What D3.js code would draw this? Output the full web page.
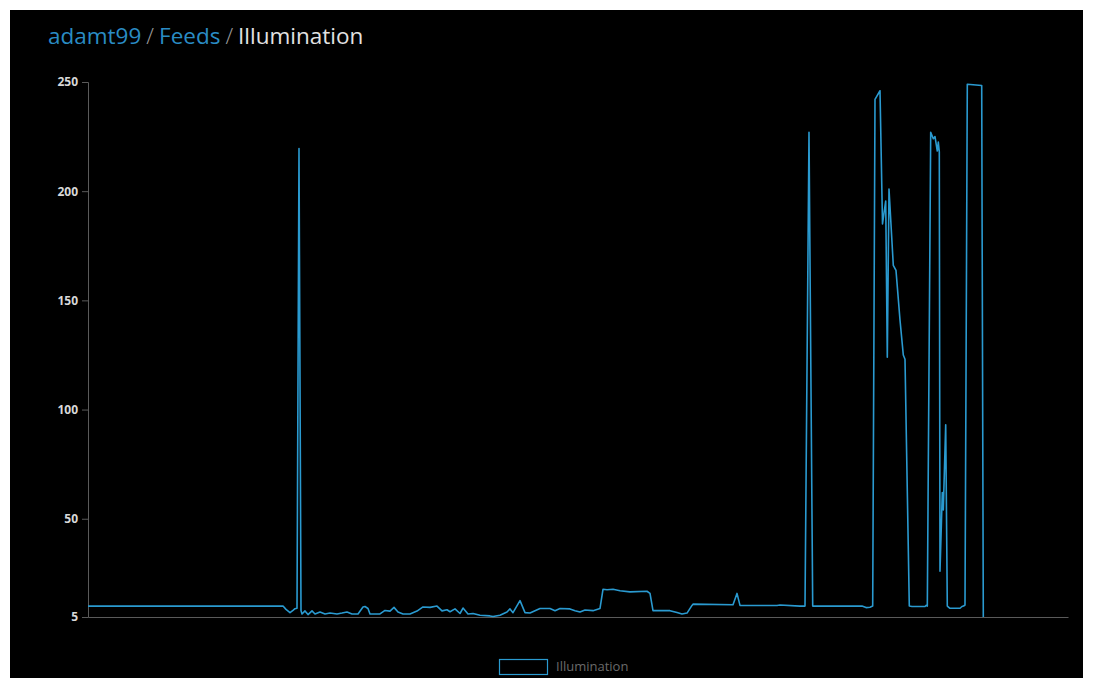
<script src="https://cdn.jsdelivr.net/npm/d3@7"></script>
<style>
  body { margin: 0; background: #fff; }
</style>
<div id="chart"></div>
<script>
  // readings (x position along the feed, illumination value)
  var sampleX = [0,190,195,198,202,205,207,209,211,213,214,217,220,224,227,232,237,242,249,254,
    259,264,270,275,277,280,282,292,297,302,306,310,315,322,329,335,342,349,354,359,
    362,367,372,375,380,385,392,402,405,412,419,422,425,432,437,442,447,452,462,467,
    472,482,487,492,497,505,512,515,519,525,532,542,559,562,565,582,589,594,599,604,
    605,645,649,652,689,692,712,717,721,724.7,774,778,782,784.7,787,792,794.5,797.7,799.3,801,
    805.3,808,812,815.3,817,821.3,824,837,838,839.3,842.7,845.3,847,849.3,850.3,851.3,852,854.3,855.3,857.7,
    859.3,862,872,874,875.5,877,879.3,893.7,895.3];
  var illumination = [10,10,10,8.5,7,8,8.8,9,219.5,8,6.4,7.8,6.1,7.8,6.4,7.3,6.4,6.8,6.4,6.8,
    7.3,6.4,6.4,9.6,9.8,8.9,6.4,6.4,8,7.7,9.4,7.3,6.4,6.4,7.7,9.6,9.4,10,7.8,8.3,
    7.4,8.7,6.6,9.1,6.4,6.6,5.8,5.5,5.2,5.8,7.3,8.7,7,12.5,7,6.8,7.9,8.9,8.9,7.9,
    8.9,8.7,7.9,7.3,8.2,7.9,8.9,17.7,17.5,17.7,17,16.5,16.8,15.8,7.9,7.9,7.1,6.4,6.8,10.3,
    10.9,10.6,15.8,10.3,10.3,10.5,10,10,227,10,10,9.3,9.5,10,242,246,185,195.5,124,201,
    166,163.7,141,125,123,10,9.8,9.8,10.3,10,227,224,225,218.4,222.5,218,26,62,54,93,
    10,9,9,9.8,10,10.5,249,248.4,5];
  var yTicks = [5, 50, 100, 150, 200, 250];

  var width = 1093;
  var height = 682;
  var lineColor = "#2a9ad0";

  var svg = d3.select("#chart")
    .append("svg")
    .attr("width", width)
    .attr("height", height);

  // black panel
  svg.append("rect")
    .attr("x", 10)
    .attr("y", 10)
    .attr("width", 1073)
    .attr("height", 668)
    .attr("fill", "#000");

  // breadcrumb title
  var title = svg.append("text")
    .attr("x", 48)
    .attr("y", 44)
    .style("font-family", "'Open Sans', sans-serif")
    .style("font-size", "22.5px");
  title.append("tspan").attr("fill", "#2a8cc4").text("adamt99");
  title.append("tspan").attr("fill", "#9a9a9a").attr("dx", 5).style("font-weight", 300).text("/");
  title.append("tspan").attr("fill", "#2a8cc4").attr("dx", 5).text("Feeds");
  title.append("tspan").attr("fill", "#9a9a9a").attr("dx", 5).style("font-weight", 300).text("/");
  title.append("tspan").attr("fill", "#e2e2e2").attr("dx", 5).text("Illumination");

  var x = d3.scaleLinear().domain([0, 980]).range([88, 1068]);
  var y = d3.scaleLinear().domain([5, 250]).range([617, 82]);

  // y axis
  var yAxis = svg.append("g")
    .attr("transform", "translate(88,0)")
    .call(d3.axisLeft(y).tickValues(yTicks).tickSize(6).tickPadding(4));
  yAxis.select(".domain").attr("stroke", "#5a5a5a");
  yAxis.selectAll(".tick line").attr("stroke", "#5a5a5a");
  yAxis.selectAll(".tick text")
    .attr("fill", "#d8d8d8")
    .style("font-family", "'Open Sans', sans-serif")
    .style("font-weight", "bold")
    .style("font-size", "12px");

  // x axis (no labels)
  var xAxis = svg.append("g")
    .attr("transform", "translate(0,617)")
    .call(d3.axisBottom(x).tickValues([]).tickSizeOuter(0));
  xAxis.select(".domain").attr("stroke", "#5a5a5a");

  // the line
  var points = sampleX.map(function(d, i) { return [d, illumination[i]]; });
  var line = d3.line()
    .x(function(d) { return x(d[0]); })
    .y(function(d) { return y(d[1]); });

  svg.append("path")
    .datum(points)
    .attr("fill", "none")
    .attr("stroke", lineColor)
    .attr("stroke-width", 1.6)
    .attr("stroke-linejoin", "round")
    .attr("d", line);

  // legend
  svg.append("rect")
    .attr("x", 499.5)
    .attr("y", 659.5)
    .attr("width", 48)
    .attr("height", 15)
    .attr("fill", "#000")
    .attr("stroke", lineColor)
    .attr("stroke-width", 1.2);
  svg.append("text")
    .attr("x", 556)
    .attr("y", 671)
    .attr("fill", "#6a6a6a")
    .style("font-family", "'Open Sans', sans-serif")
    .style("font-size", "13px")
    .text("Illumination");
</script>
